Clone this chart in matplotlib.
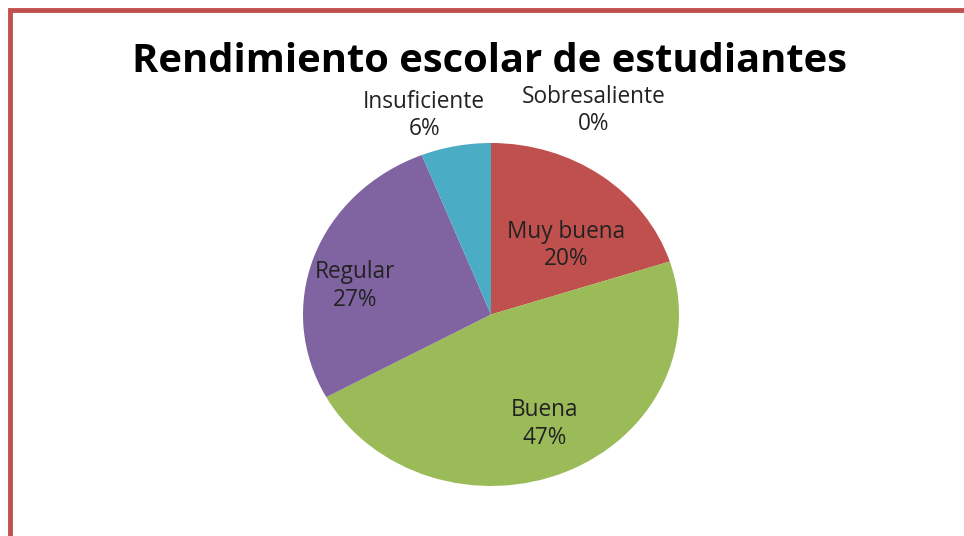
import matplotlib
matplotlib.use("Agg")
import matplotlib.pyplot as plt
from matplotlib.patches import Rectangle

categories = ["Sobresaliente", "Muy buena", "Buena", "Regular", "Insuficiente"]
values = [0, 20, 47, 27, 6]
colors = ["#4F81BD", "#C0504D", "#9BBB59", "#8064A2", "#4BACC6"]
title = "Rendimiento escolar de estudiantes"

# label positions in axes data units (pie radius = 1)
label_pos = [(0.548, 1.189), (0.399, 0.402), (0.287, -0.639), (-0.723, 0.166), (-0.356, 1.160)]

plt.rcParams['font.family'] = ['Open Sans', 'DejaVu Sans']

fig = plt.figure(figsize=(9.64, 5.36), dpi=100)
fig.patch.set_facecolor("white")

# red frame (extends past right and bottom edges)
fig.patches.append(Rectangle((10 / 964, -0.1), 1.2, (536 - 10) / 536 + 0.1,
                             transform=fig.transFigure, fill=False,
                             edgecolor="#C0504D", linewidth=3.5, zorder=0))

ax = fig.add_axes([303 / 964, 50 / 536, 376 / 964, 343 / 536])
ax.pie(values, colors=colors, startangle=90, counterclock=False,
       wedgeprops=dict(linewidth=0), radius=1.0, frame=False)
ax.set_aspect('auto')
ax.set_xlim(-1, 1)
ax.set_ylim(-1, 1)
ax.axis('off')

total = sum(values)
for cat, v, (x, y) in zip(categories, values, label_pos):
    ax.text(x, y, f"{cat}\n{round(100 * v / total)}%", ha='center', va='center',
            fontsize=16.3, color='#222222', linespacing=1.2, clip_on=False)

fig.text(490 / 964, 1 - 72 / 536, title, ha='center', va='baseline',
         fontsize=28.7, fontweight='bold', color='black')

fig.savefig("out.png", dpi=100)
